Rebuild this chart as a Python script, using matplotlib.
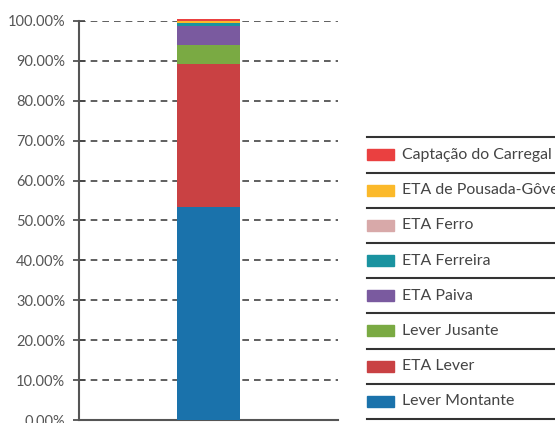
import matplotlib.pyplot as plt
from matplotlib.patches import Rectangle
from matplotlib.lines import Line2D

# Share of each source, percent (bottom to top)
sources = ['Lever Montante', 'ETA Lever', 'Lever Jusante', 'ETA Paiva',
           'ETA Ferreira', 'ETA Ferro', 'ETA de Pousada-Gôvea', 'Captação do Carregal']
shares = [53.3, 35.8, 4.9, 4.8, 0.6, 0.15, 0.45, 0.6]
colors = ['#1a72ab', '#c94143', '#7aaa43', '#7a5a9f',
          '#1a93a0', '#d8a9a9', '#fbb92a', '#ea4040']
ticks = [0, 10, 20, 30, 40, 50, 60, 70, 80, 90, 100]

plt.rcParams['font.family'] = ['Lato', 'DejaVu Sans']

fig = plt.figure(figsize=(5.55, 4.23), dpi=100)
ax = fig.add_axes([79 / 555, 1 - 420 / 423, (338 - 79) / 555, (420 - 21) / 423])

bottom = 0
for name, val, col in zip(sources, shares, colors):
    ax.bar(0, val, bottom=bottom, width=0.24, color=col, edgecolor='none', clip_on=False, zorder=3)
    bottom += val

ax.set_xlim(-0.5, 0.5)
ax.set_ylim(0, 100)
ax.set_yticks(ticks)
ax.set_yticklabels([f'{t:.2f}%' for t in ticks], color='#555555', fontsize=10.5)
ax.set_xticks([])
ax.tick_params(axis='y', direction='inout', length=8, width=1.2, color='#444444', pad=6)
ax.yaxis.grid(True, linestyle=(0, (4, 3)), color='#444444', linewidth=1.2, zorder=1)
ax.set_axisbelow(True)
for s in ['top', 'right']:
    ax.spines[s].set_visible(False)
for s in ['left', 'bottom']:
    ax.spines[s].set_color('#555555')
    ax.spines[s].set_linewidth(1.5)

# Legend drawn as a ruled table on the right
x0 = 367 / 555
row_h = 35.2 / 423
top_y = 1 - 137.3 / 423
for i, (name, col) in enumerate(zip(sources[::-1], colors[::-1])):
    y_line = top_y - i * row_h
    fig.add_artist(Line2D([x0, 1], [y_line, y_line], color='#333333', linewidth=1.5))
    yc = y_line - row_h / 2
    fig.add_artist(Rectangle((x0, yc - 5.5 / 423), 27 / 555, 11 / 423, color=col))
    fig.text(402 / 555, yc, name, fontsize=11.4, color='#444444', va='center', ha='left')
y_last = top_y - len(sources) * row_h
fig.add_artist(Line2D([x0, 1], [y_last, y_last], color='#333333', linewidth=1.5))

fig.savefig('out.png', dpi=100)
